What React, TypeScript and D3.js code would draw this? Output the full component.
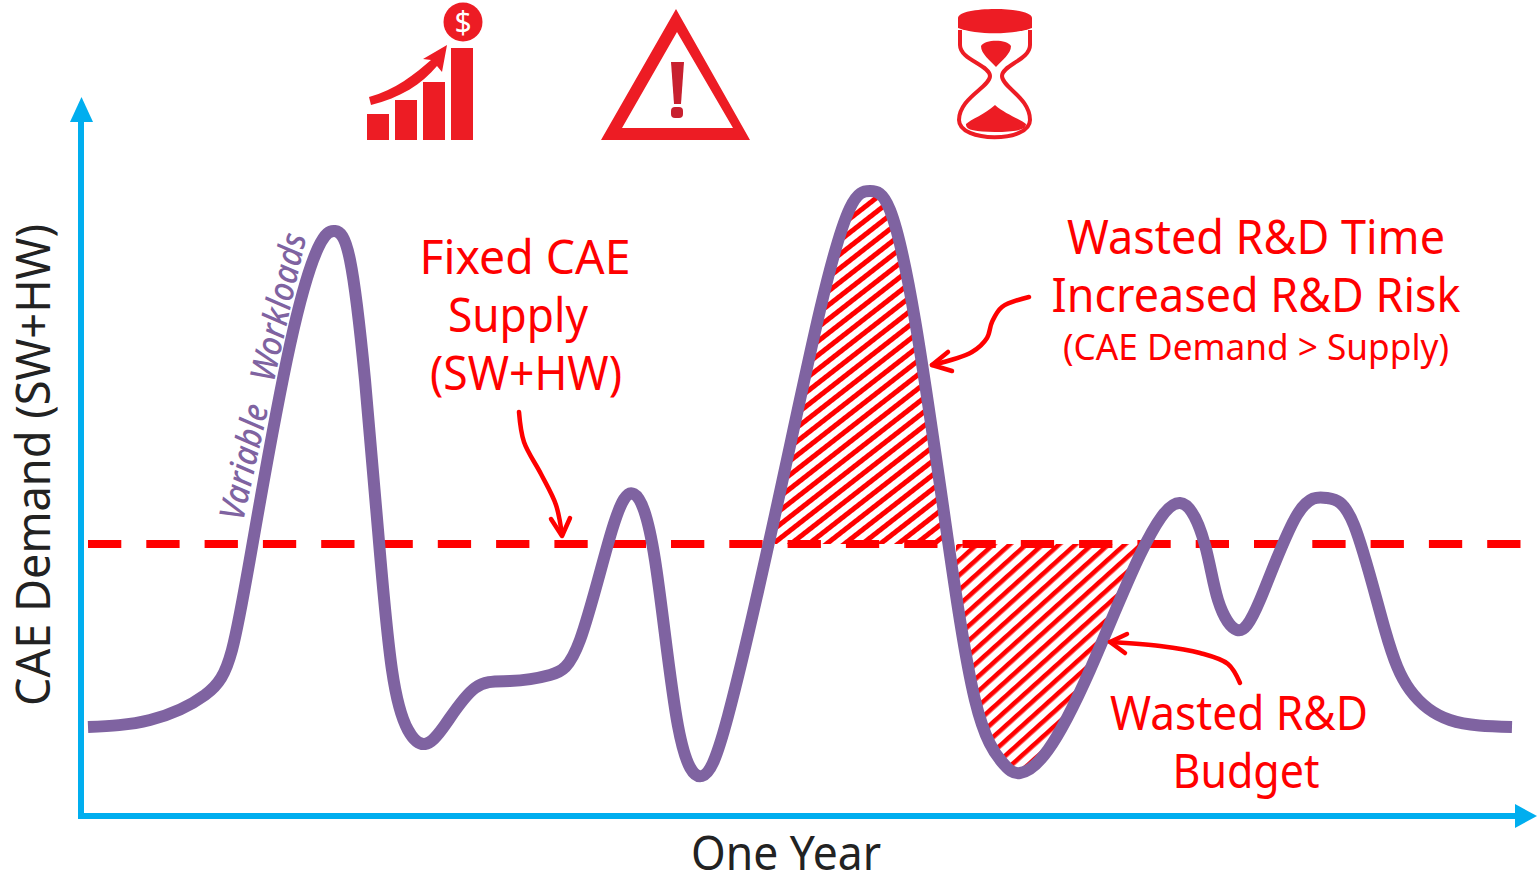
import React from "react";
import * as d3 from "d3";

const WIDTH = 1537;
const HEIGHT = 876;

// Time along the year and CAE demand, in picture units above the x axis
const demandTime = [0,62,117,144,167,202,230,247,262,277,290,304,320,337,357,387,422,462,492,524,546,567,590,614,640,687,732,762,782,802,827,857,887,914,932,960,1002,1052,1092,1117,1130,1149,1172,1209,1239,1266,1297,1322,1362,1424];
const demandLevel = [89,96,121,166,286,471,568,585,556,436,286,146,86,72,91,128,135,141,176,286,322,256,90,40,100,301,506,608,625,606,496,296,116,54,43,66,146,261,313,271,216,186,216,301,318,291,186,126,96,89];

const supplyLevel = 272;
const overDemandSpan = [687, 860];
const underSupplySpan = [868, 1055];

const xTicksRange = [0, 1424];
const yRange = [0, 716];

// annotation lines, in chart pixels
const arrowTime: [number, number][] = [[1029,297],[1002,307],[992,322],[987,338],[972,352],[932,365]];
const arrowTimeHead: [number, number][] = [[948,352],[932,365],[952,371]];
const arrowBudget: [number, number][] = [[1240,683],[1228,664],[1200,653],[1160,646],[1110,642]];
const arrowBudgetHead: [number, number][] = [[1127,634],[1110,642],[1125,653]];
const arrowSupply: [number, number][] = [[519,412],[524,442],[541,474],[556,505],[562,535]];
const arrowSupplyHead: [number, number][] = [[551,519],[562,536],[570,518]];

const revenueBars = [[367,114,22,26],[395,100,22,40],[423,82,22,58],[451,48,22,92]];

const axisColor = "#00AEEF";
const red = "#FF0000";
const iconRed = "#ED1C24";
const purple = "#7F63A1";
const font = "'Noto Sans', sans-serif";

const labels = [
  { t: "Wasted R&D Time", x: 1256, y: 254, s: 47, w: 378 },
  { t: "Increased R&D Risk", x: 1256, y: 312, s: 47, w: 409 },
  { t: "(CAE Demand > Supply)", x: 1256, y: 360, s: 36, w: 386 },
  { t: "Fixed CAE", x: 525, y: 274, s: 47, w: 211 },
  { t: "Supply", x: 518, y: 332, s: 47, w: 140 },
  { t: "(SW+HW)", x: 526, y: 390, s: 47, w: 192 },
  { t: "Wasted R&D", x: 1239, y: 730, s: 47, w: 258 },
  { t: "Budget", x: 1246, y: 788, s: 47, w: 147 },
];

export default function App() {
  const x = d3.scaleLinear().domain(xTicksRange).range([88, 1512]);
  const y = d3.scaleLinear().domain(yRange).range([816, 100]);
  const pts = demandTime.map((t, i) => [t, demandLevel[i]] as [number, number]);
  const line = d3.line<[number, number]>().x(d => x(d[0])).y(d => y(d[1])).curve(d3.curveNatural);
  const area = d3.area<[number, number]>().x(d => x(d[0])).y0(y(supplyLevel)).y1(d => y(d[1])).curve(d3.curveNatural);
  const smooth = d3.line().curve(d3.curveCatmullRom.alpha(0.5));
  const straight = d3.line();
  const ySupply = y(supplyLevel);

  return (
    <svg width={WIDTH} height={HEIGHT} viewBox={`0 0 ${WIDTH} ${HEIGHT}`}
      style={{ position: "absolute", left: 0, top: 0, display: "block", background: "#fff" }} fontFamily={font}>
      <defs>
        <pattern id="hatchTop" width="11" height="11" patternUnits="userSpaceOnUse" patternTransform="rotate(-38)">
          <rect width="11" height="5" fill={red} shapeRendering="crispEdges" />
        </pattern>
        <pattern id="hatchBottom" width="11" height="11" patternUnits="userSpaceOnUse" patternTransform="rotate(-42)">
          <rect width="11" height="4.6" fill={red} />
        </pattern>
        <clipPath id="clipOver"><rect x={x(overDemandSpan[0])} y={0} width={x(overDemandSpan[1]) - x(overDemandSpan[0])} height={ySupply} /></clipPath>
        <clipPath id="clipUnder"><rect x={x(underSupplySpan[0])} y={ySupply - 3} width={x(underSupplySpan[1]) - x(underSupplySpan[0])} height={400} /></clipPath>
      </defs>

      {/* icons */}
      <g fill={iconRed}>
        {revenueBars.map((b, i) => <rect key={i} x={b[0]} y={b[1]} width={b[2]} height={b[3]} />)}
        <path d="M369 97 C395 90 415 74 431 60 L423 59 L447 45 L442 72 L437 66 C422 84 400 98 371 105 Z" />
        <ellipse cx={463} cy={22} rx={19.5} ry={19.5} />
        <path fillRule="evenodd" d="M676 9 L750 140 H601 Z M677 32 L622 128 H733 Z" />
        <path d="M671 62 H684 L681 104 H674 Z" fill="#C8202F" />
        <rect x={671} y={107} width={12} height={11} rx={4} fill="#C8202F" />
        <path d="M958 18 C958 6 1032 6 1032 18 V28 C1012 35 977 35 958 28 Z" />
        <path d="M981 46 C985 39 1007 39 1011 46 C1011 54 1002 60 996 67 C990 60 981 54 981 46 Z" />
        <path d="M995 105 C1005 114 1022 120 1026 124 C1026 130 1015 132 995 132 C975 132 965 130 966 124 C970 120 985 114 995 105 Z" />
      </g>
      <path d="M960 30 V45 C960 60 990 65 990 76 C990 87 959 98 959 120 C959 143 1030 143 1030 120 C1030 98 1002 87 1002 76 C1002 65 1030 60 1030 45 V30"
        fill="none" stroke={iconRed} strokeWidth={4} />
      <text x={463} y={33} textAnchor="middle" fontSize={30} fontWeight={400} fill="#fff">$</text>

      {/* hatched gaps */}
      <path d={area(pts) ?? ""} fill="url(#hatchTop)" clipPath="url(#clipOver)" />
      <path d={area(pts) ?? ""} fill="url(#hatchBottom)" clipPath="url(#clipUnder)" />

      {/* supply */}
      <line x1={x(0)} x2={1522} y1={ySupply} y2={ySupply} stroke={red} strokeWidth={8} strokeDasharray="33.3 25" />

      {/* demand */}
      <path d={line(pts) ?? ""} fill="none" stroke={purple} strokeWidth={12} strokeLinejoin="round" />

      {/* axes */}
      <line x1={81} x2={81} y1={819} y2={118} stroke={axisColor} strokeWidth={6} />
      <line x1={78} x2={1518} y1={816} y2={816} stroke={axisColor} strokeWidth={6} />
      <path d={straight([[70,122],[81.5,97],[93,122]]) + "Z"} fill={axisColor} />
      <path d={straight([[1515,804],[1537,816],[1515,828]]) + "Z"} fill={axisColor} />

      {/* annotation arrows */}
      {[[arrowTime, arrowTimeHead], [arrowBudget, arrowBudgetHead], [arrowSupply, arrowSupplyHead]].map((a, i) => (
        <g key={i} fill="none" stroke={red} strokeWidth={4.5} strokeLinecap="round" strokeLinejoin="round">
          <path d={smooth(a[0]) ?? ""} />
          <path d={straight(a[1]) ?? ""} />
        </g>
      ))}

      {/* labels */}
      {labels.map(l => (
        <text key={l.t} x={l.x} y={l.y} textAnchor="middle" fontSize={l.s} fill={red} textLength={l.w} lengthAdjust="spacingAndGlyphs">{l.t}</text>
      ))}
      <text x={786} y={870} textAnchor="middle" fontSize={47} fill="#222" textLength={190} lengthAdjust="spacingAndGlyphs">One Year</text>
      <text transform="translate(50,465) rotate(-90)" textAnchor="middle" fontSize={47} fill="#222" textLength={482} lengthAdjust="spacingAndGlyphs">CAE Demand (SW+HW)</text>
      <text transform="translate(243,522) rotate(-77.5)" fontSize={35} fontStyle="italic" fontWeight={500} fill={purple} textLength={293} lengthAdjust="spacingAndGlyphs" style={{ whiteSpace: "pre" }}>Variable   Workloads</text>
    </svg>
  );
}
